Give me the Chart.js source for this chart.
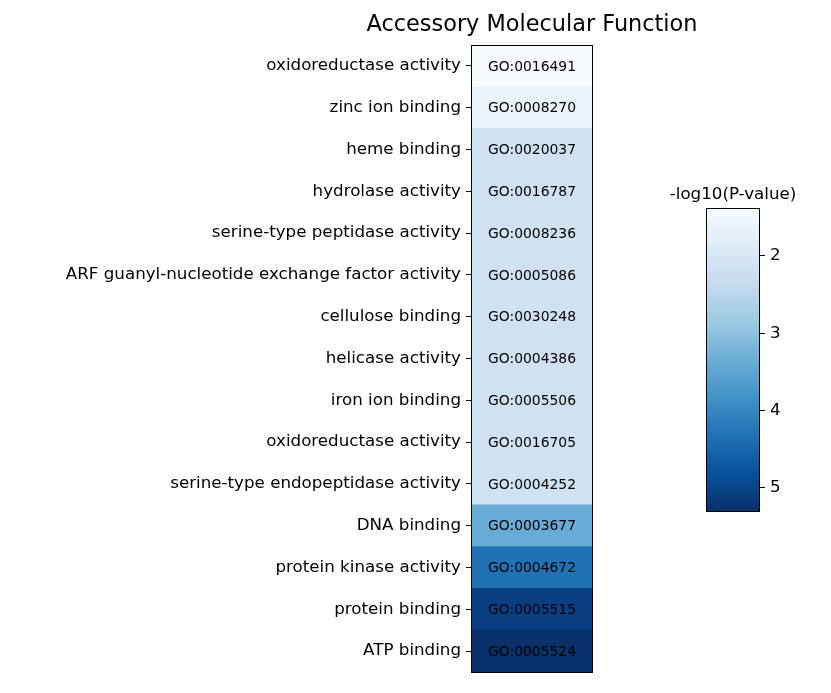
<!DOCTYPE html>
<html>
<head>
<meta charset="utf-8">
<script src="https://cdn.jsdelivr.net/npm/chart.js@4/dist/chart.umd.min.js"></script>
<style>
  html, body { margin: 0; padding: 0; background: #fff; }
  .wrap { position: relative; width: 831px; height: 693px; }
  .wrap canvas { position: absolute; left: 0; top: 0; }
</style>
</head>
<body>
<div class="wrap">
  <canvas id="heat" width="831" height="693"></canvas>
  <canvas id="cbar" width="831" height="693"></canvas>
</div>
<script>
const terms = [
  "oxidoreductase activity", "zinc ion binding", "heme binding", "hydrolase activity",
  "serine-type peptidase activity", "ARF guanyl-nucleotide exchange factor activity",
  "cellulose binding", "helicase activity", "iron ion binding", "oxidoreductase activity",
  "serine-type endopeptidase activity", "DNA binding", "protein kinase activity",
  "protein binding", "ATP binding"
];
const goIds = [
  "GO:0016491", "GO:0008270", "GO:0020037", "GO:0016787", "GO:0008236", "GO:0005086",
  "GO:0030248", "GO:0004386", "GO:0005506", "GO:0016705", "GO:0004252", "GO:0003677",
  "GO:0004672", "GO:0005515", "GO:0005524"
];
const negLogP = [1.38, 1.64, 2.16, 2.16, 2.16, 2.16, 2.16, 2.16, 2.16, 2.16, 2.16, 3.38, 4.32, 5.07, 5.30];
const colorbarTicks = [2, 3, 4, 5];

const FONT = "'DejaVu Sans', sans-serif";
const blues = ["#f7fbff", "#deebf7", "#c6dbef", "#9ecae1", "#6baed6", "#4292c6", "#2171b5", "#08519c", "#08306b"];
const vmin = Math.min(...negLogP);
const vmax = Math.max(...negLogP);

function hex2rgb(h) {
  return [parseInt(h.slice(1, 3), 16), parseInt(h.slice(3, 5), 16), parseInt(h.slice(5, 7), 16)];
}
function bluesAt(t) {
  t = Math.max(0, Math.min(1, t));
  const pos = t * (blues.length - 1);
  const i = Math.min(Math.floor(pos), blues.length - 2);
  const f = pos - i;
  const a = hex2rgb(blues[i]), b = hex2rgb(blues[i + 1]);
  const c = a.map((v, k) => Math.round(v + (b[k] - v) * f));
  return `rgb(${c[0]}, ${c[1]}, ${c[2]})`;
}
const cellColors = negLogP.map(v => bluesAt((v - vmin) / (vmax - vmin)));

// black frame around the plot area
const frame = {
  id: "frame",
  afterDraw(chart) {
    const { ctx, chartArea: a } = chart;
    ctx.save();
    ctx.strokeStyle = "#000";
    ctx.lineWidth = 1;
    ctx.strokeRect(Math.round(a.left) + 0.5, Math.round(a.top) + 0.5,
      Math.round(a.right - a.left) - 1, Math.round(a.bottom - a.top));
    ctx.restore();
  }
};

// GO ids in the cells + title
const cellText = {
  id: "cellText",
  afterDatasetsDraw(chart) {
    const { ctx, chartArea: a } = chart;
    const meta = chart.getDatasetMeta(0);
    ctx.save();
    ctx.fillStyle = "#000";
    ctx.font = "13.9px " + FONT;
    ctx.textAlign = "center";
    ctx.textBaseline = "middle";
    meta.data.forEach((bar, i) => {
      ctx.fillText(goIds[i], (bar.x + bar.base) / 2, bar.y + 1);
    });
    ctx.font = "22.4px " + FONT;
    ctx.textBaseline = "alphabetic";
    ctx.fillText("Accessory Molecular Function", (a.left + a.right) / 2, a.top - 14);
    ctx.restore();
  }
};

new Chart(document.getElementById("heat"), {
  type: "bar",
  data: {
    labels: terms,
    datasets: [{
      data: goIds.map(() => 1),
      backgroundColor: cellColors,
      borderWidth: 0,
      barPercentage: 1,
      categoryPercentage: 1
    }]
  },
  options: {
    indexAxis: "y",
    responsive: false,
    animation: false,
    devicePixelRatio: 1,
    layout: { padding: { top: 45, bottom: 21, left: 0, right: 238 } },
    plugins: { legend: { display: false }, tooltip: { enabled: false } },
    scales: {
      x: { display: false, min: 0, max: 1 },
      y: {
        afterFit(scale) { scale.width = 471; },
        grid: { drawOnChartArea: false, offset: false, tickLength: 5, color: "#000" },
        border: { display: false },
        ticks: { color: "#000", padding: 5, font: { family: FONT, size: 16.7 } }
      }
    }
  },
  plugins: [frame, cellText]
});

const cbarTitle = {
  id: "cbarTitle",
  afterDraw(chart) {
    const { ctx, chartArea: a } = chart;
    ctx.save();
    ctx.fillStyle = "#000";
    ctx.font = "16.7px " + FONT;
    ctx.textAlign = "center";
    ctx.textBaseline = "alphabetic";
    ctx.fillText("-log10(P-value)", (a.left + a.right) / 2, a.top - 9);
    ctx.restore();
  }
};

new Chart(document.getElementById("cbar"), {
  type: "bar",
  data: {
    labels: ["cbar"],
    datasets: [{
      data: [[vmin, vmax]],
      backgroundColor(context) {
        const { ctx, chartArea } = context.chart;
        if (!chartArea) return blues[4];
        const g = ctx.createLinearGradient(0, chartArea.top, 0, chartArea.bottom);
        blues.forEach((c, i) => g.addColorStop(i / (blues.length - 1), c));
        return g;
      },
      borderWidth: 0,
      barPercentage: 1,
      categoryPercentage: 1
    }]
  },
  options: {
    responsive: false,
    animation: false,
    devicePixelRatio: 1,
    layout: { padding: { top: 208, bottom: 182, left: 706, right: 0 } },
    plugins: { legend: { display: false }, tooltip: { enabled: false } },
    scales: {
      x: { display: false },
      y: {
        position: "right",
        reverse: true,
        min: vmin,
        max: vmax,
        afterFit(scale) { scale.width = 71; },
        afterBuildTicks(scale) { scale.ticks = colorbarTicks.map(v => ({ value: v })); },
        grid: { drawOnChartArea: false, tickLength: 5, color: "#000" },
        border: { display: false },
        ticks: { color: "#000", padding: 5, font: { family: FONT, size: 16.7 } }
      }
    }
  },
  plugins: [frame, cbarTitle]
});
</script>
</body>
</html>
